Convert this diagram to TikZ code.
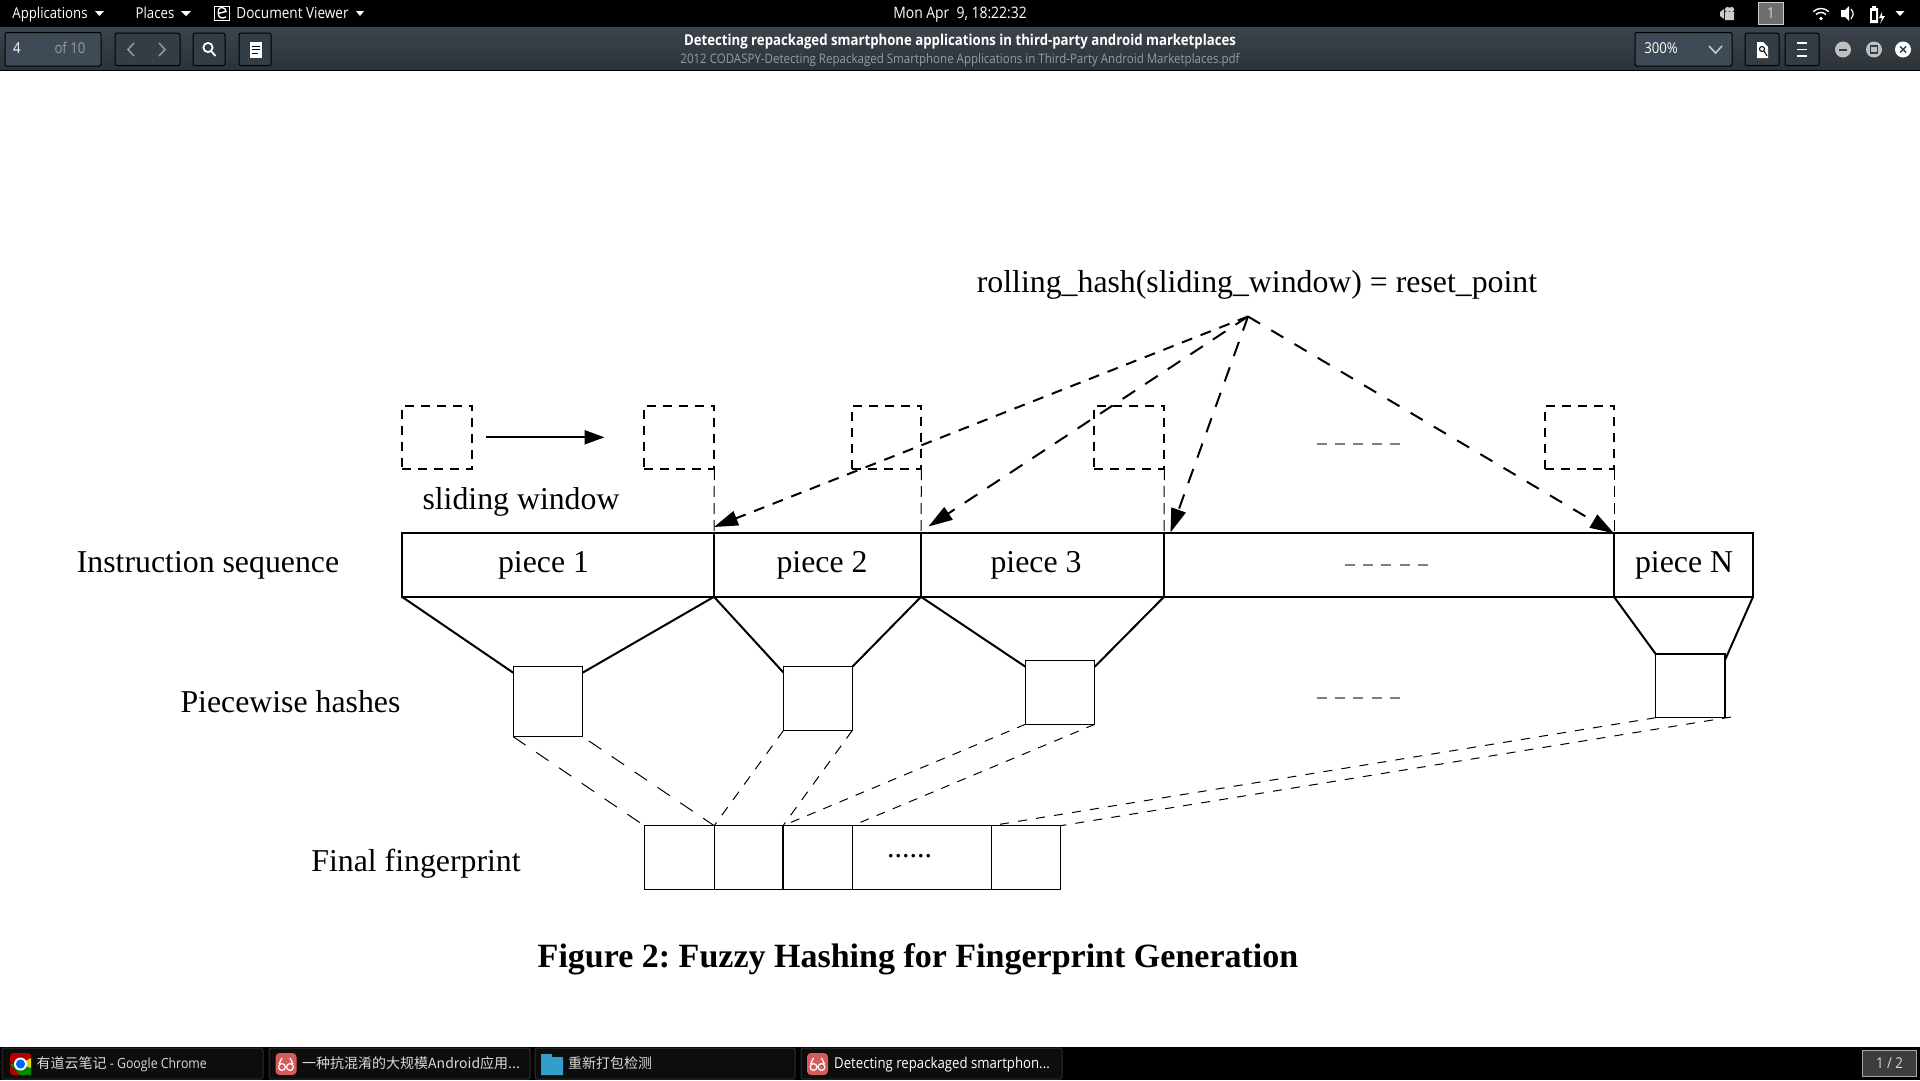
\documentclass[tikz,border=0pt]{standalone}
\usepackage{fontspec}
\usepackage{xcolor}
\usetikzlibrary{arrows.meta}
\setmainfont{Liberation Serif}
\newfontfamily\uifont[FakeStretch=0.88]{Open Sans}
\newfontfamily\cjkfont{Noto Sans CJK SC}
\definecolor{barTop}{RGB}{60,68,76}
\definecolor{barBot}{RGB}{44,50,56}
\definecolor{entryfill}{RGB}{62,74,85}
\definecolor{btnfill}{RGB}{52,60,68}
\definecolor{dimtext}{RGB}{150,156,160}
\definecolor{readerred}{RGB}{214,92,92}
\tikzset{
  slidebox/.style={draw,line width=2pt,dash pattern=on 9pt off 7pt,anchor=north west,inner sep=0pt,outer sep=0pt},
  piecebox/.style={draw,line width=2pt,anchor=north west,inner sep=0pt,outer sep=0pt,minimum height=63.5pt},
  hashbox/.style={draw,line width=1.2pt,anchor=north west,inner sep=0pt,outer sep=0pt},
  fingerbox/.style={hashbox,minimum height=64pt},
  biglabel/.style={font=\fontsize{31.8}{32}\selectfont,inner sep=0pt},
  trapline/.style={line width=2pt},
  thindash/.style={line width=1pt,dash pattern=on 10pt off 9pt},
  hitarrow/.style={line width=2pt,-{Triangle[length=24pt,width=15pt]}},
  graydash/.style={line width=1.6pt,gray,dash pattern=on 10pt off 8.4pt},
  menutxt/.style={text=white,inner sep=0pt,font=\uifont\fontsize{15}{15}\selectfont,text height=11pt,text depth=3pt},
  dimtxt/.style={menutxt,text=dimtext},
  tasktxt/.style={menutxt,text=white!85!black,anchor=west,font=\uifont\fontsize{15}{15}\selectfont},
  cjktxt/.style={tasktxt,font=\cjkfont\fontsize{14}{15}\selectfont},
  taskbtn/.style={rounded corners=2pt,draw=white!18!black,fill=white!5!black,line width=1pt},
  toolbtn/.style={rounded corners=2pt,draw=black,fill=btnfill,line width=1pt},
  caretmark/.style={fill=white,draw=none},
}
\begin{document}
\begin{tikzpicture}[x=1pt,y=-1pt,>=Stealth]
    \useasboundingbox (0,0) rectangle (1920,1080);
    \fill[white] (0,0) rectangle (1920,1080);
    % desktop top bar and viewer toolbar
    \fill[black] (0,0) rectangle (1920,27.5);
    \shade[top color=barTop,bottom color=barBot] (0,27.5) rectangle (1920,69.5);
    \fill[black] (0,69.5) rectangle (1920,70.5);
    \node[menutxt] (mapps) at (50,14.5){Applications};
    \fill[caretmark] (95,11)--(104,11)--(99.5,16)--cycle;
    \node[menutxt] (mplaces) at (155,14.5){Places};
    \fill[caretmark] (181,11)--(191,11)--(186,16)--cycle;
    \draw[white,line width=1pt] (214.5,6) rectangle (229,20.5);
    \draw[white,line width=1.4pt] (218,13.5)--(226,11.5) arc (0:-200:4) .. controls (218,18) and (222,19) .. (226,17);
    \node[menutxt,font=\uifont\fontsize{15.4}{16}\selectfont] (mviewer) at (292.5,14.5){Document Viewer};
    \fill[caretmark] (356,11)--(364,11)--(360,16)--cycle;
    \node[menutxt,font=\uifont\fontsize{15.8}{16}\selectfont] (mclock) at (960,14.5){Mon Apr\ \ 9, 18:22:32};
    % status icons
    \fill[white!80!black] (1720,12)--(1724,9)--(1724,19)--(1720,16)--cycle (1725,12) rectangle (1734,20);
    \fill[white!80!black] (1727.5,9.5) circle (2.6) (1731.5,9.5) circle (2.6);
    \node[draw=white!80!black,fill=white!43!black,text=white!85!black,minimum width=25pt,minimum height=22pt,inner sep=0pt,line width=1pt,font=\uifont\fontsize{15}{15}\selectfont] (mdesk) at (1771,13.5){1};
    \draw[white,line width=1.4pt] (1813.2,11.7) arc (-135:-45:11) (1816,14.5) arc (-135:-45:7);
    \fill[white] (1821,18.5) circle (1.8);
    \fill[white] (1841,10)--(1845,10)--(1849,6)--(1849,21)--(1845,17)--(1841,17)--cycle;
    \draw[white,line width=1.2pt] (1851,9) arc (-50:50:6 and 6.5);
    \fill[white] (1870,8) rectangle (1878,23) (1872,6) rectangle (1876,8);
    \fill[black] (1872,11) rectangle (1876,20);
    \fill[white] (1882,12)--(1879,18)--(1882,18)--(1880,24)--(1885,16)--(1882,16)--cycle;
    \fill[caretmark] (1895.5,11)--(1904.5,11)--(1900,16)--cycle;
    % left tools
    \draw[rounded corners=2pt,draw=black,fill=entryfill,line width=1pt] (5,32.5) rectangle (101,66);
    \node[menutxt] (tpage) at (17,49){4};
    \node[dimtxt] (tpages) at (70,49){of 10};
    \draw[toolbtn] (115,33) rectangle (180,65.5);
    \draw[line width=1.5pt,dimtext] (134,43)--(128,49.5)--(134,56);
    \draw[line width=1.5pt,dimtext] (159,43)--(165,49.5)--(159,56);
    \draw[toolbtn] (193,33) rectangle (225,65.5);
    \draw[white,line width=1.8pt] (208,47.5) circle (4.6) (211.5,51.5)--(215.5,56);
    \draw[toolbtn] (239,33) rectangle (271,65.5);
    \fill[white] (250,42) rectangle (262,58);
    \draw[black,line width=.9pt] (252,46)--(260,46) (252,49.5)--(260,49.5) (252,53)--(258,53);
    \node[menutxt,font=\uifont\bfseries\fontsize{15}{15}\selectfont] (ttitle) at (960,41){Detecting repackaged smartphone applications in third-party android marketplaces};
    \node[dimtxt,font=\uifont\fontsize{13.1}{13}\selectfont] (tfile) at (960,59){2012 CODASPY-Detecting Repackaged Smartphone Applications in Third-Party Android Marketplaces.pdf};
    % right tools
    \draw[rounded corners=2pt,draw=black,fill=entryfill,line width=1pt] (1635,32.5) rectangle (1732,66);
    \node[menutxt] (tzoom) at (1661,49){300\%};
    \draw[white!80!black,line width=1.5pt] (1709,46)--(1715.5,53)--(1722,46);
    \draw[toolbtn] (1745,33) rectangle (1779,65.5);
    \fill[white] (1757,42)--(1763,42)--(1768,47)--(1768,58)--(1757,58)--cycle;
    \draw[black,line width=1pt] (1762,49) circle (2.5) (1764,51)--(1767,56);
    \draw[toolbtn] (1785,33) rectangle (1819,65.5);
    \draw[white,line width=1.6pt] (1797,43)--(1807,43) (1797,49.5)--(1807,49.5) (1797,56)--(1807,56);
    \fill[white!75!black] (1843,49.5) circle (8) (1874,49.5) circle (8);
    \fill[white] (1903,49.5) circle (8);
    \draw[btnfill,line width=2pt] (1839,49.5)--(1847,49.5);
    \draw[btnfill,line width=1.6pt] (1870.5,46) rectangle (1877.5,53);
    \draw[btnfill,line width=1.4pt] (1900,46.5)--(1906,52.5) (1906,46.5)--(1900,52.5);
    % sliding windows
    \node[slidebox,minimum width=70pt,minimum height=63.5pt] (win1) at (402,405.7){};
    \node[slidebox,minimum width=70pt,minimum height=63.5pt] (win2) at (644.3,405.7){};
    \node[slidebox,minimum width=69pt,minimum height=63.5pt] (win3) at (852.4,405.7){};
    \node[slidebox,minimum width=70pt,minimum height=63.5pt] (win4) at (1094.3,405.7){};
    \node[slidebox,minimum width=69pt,minimum height=63.5pt] (win5) at (1545,405.7){};
    \coordinate (slidefrom) at (485.6,437.3);
    \coordinate (slideto) at (604.5,437.3);
    \draw[line width=2pt,-{Triangle[length=20pt,width=14pt]}] (slidefrom)--(slideto);
    \node[biglabel] (lblwin) at (521,501.5){sliding window};
    \node[biglabel] (lblroll) at (1257,285){rolling\_hash(sliding\_window) = reset\_point};
    % instruction sequence
    \node[piecebox,minimum width=312pt] (piece1) at (402,533.3){};
    \node[piecebox,minimum width=207pt] (piece2) at (714,533.3){};
    \node[piecebox,minimum width=243pt] (piece3) at (921,533.3){};
    \node[piecebox,minimum width=450pt] (pieceX) at (1164,533.3){};
    \node[piecebox,minimum width=139pt] (pieceN) at (1614,533.3){};
    \node[biglabel] (txt1) at (543.5,565.5){piece 1};
    \node[biglabel] (txt2) at (822,565.5){piece 2};
    \node[biglabel] (txt3) at (1036,565.5){piece 3};
    \node[biglabel] (txtN) at (1684,565.5){piece N};
    \draw[graydash] (1344.6,565)--(1428,565);
    \draw[graydash] (1316.5,444)--(1400,444);
    \draw[graydash] (1316.5,698)--(1400,698);
    \node[biglabel] (lblseq) at (208,565.5){Instruction sequence};
    \node[biglabel] (lblhash) at (290.5,701.5){Piecewise hashes};
    \node[biglabel] (lblfinal) at (416,863.5){Final fingerprint};
    % reset point arrows
    \coordinate (apex) at (1248,316.5);
    \coordinate (hit1) at (714,527);
    \coordinate (hit2) at (928.5,526.5);
    \coordinate (hit3) at (1170.5,532.5);
    \draw[hitarrow,dash pattern=on 11pt off 9pt] (apex)--(hit1);
    \draw[hitarrow,dash pattern=on 15pt off 12pt] (apex)--(hit2);
    \draw[hitarrow,dash pattern=on 15pt off 12pt] (apex)--(hit3);
    \draw[hitarrow,dash pattern=on 14pt off 13pt] (apex)--(pieceN.north west);
    % windows down to the bar
    \draw[thindash,dash pattern=on 11pt off 6pt] (win2.south east)--(piece1.north east);
    \draw[thindash,dash pattern=on 11pt off 6pt] (win3.south east)--(piece2.north east);
    \draw[thindash,dash pattern=on 11pt off 6pt] (win4.south east)--(piece3.north east);
    \draw[thindash,dash pattern=on 11pt off 6pt] (win5.south east)--(pieceN.north west);
    % piecewise hashes
    \node[hashbox,minimum width=69.4pt,minimum height=70pt] (hash1) at (513.2,666.7){};
    \node[hashbox,minimum width=68.8pt,minimum height=63.6pt] (hash2) at (783.6,666.7){};
    \node[hashbox,minimum width=69.4pt,minimum height=64pt] (hash3) at (1025.4,660.3){};
    \node[hashbox,minimum width=69.3pt,minimum height=63.7pt] (hash4) at (1655.7,654){};
    \draw[trapline] (piece1.south west)--(hash1.north west|-0,672.7);
    \draw[trapline] (piece1.south east)--(hash1.north east|-0,672.7);
    \draw[trapline] (piece2.south west)--(hash2.north west|-0,672.7);
    \draw[trapline] (piece2.south east)--(hash2.north east);
    \draw[trapline] (piece3.south west)--(hash3.north west|-0,666.7);
    \draw[trapline] (piece3.south east)--(hash3.north east|-0,666.7);
    \draw[trapline] (pieceN.south west)--(hash4.north west);
    \draw[trapline] (pieceN.south east)--(hash4.north east|-0,660);
    % final fingerprint
    \node[fingerbox,minimum width=69.9pt] (fp1) at (644.3,825.7){};
    \node[fingerbox,minimum width=68.8pt] (fp2) at (714.2,825.7){};
    \node[fingerbox,minimum width=69.4pt] (fp3) at (783,825.7){};
    \node[fingerbox,minimum width=138.8pt] (fp4) at (852.4,825.7){};
    \node[fingerbox,minimum width=69.4pt] (fp5) at (991.2,825.7){};
    \node[biglabel,font=\fontsize{30}{30}\selectfont] (fpdots) at (909.6,856){......};
    \coordinate (hash4tail) at (1731,717);
    \draw[thindash,dash pattern=on 15pt off 12.6pt] (hash1.south west)--(fp1.north west);
    \draw[thindash,dash pattern=on 15pt off 12.6pt,dash phase=20pt] (hash1.south east)--(fp2.north west);
    \draw[thindash] (hash2.south west)--(fp2.north west);
    \draw[thindash] (hash2.south east)--(fp3.north west);
    \draw[thindash,dash pattern=on 9pt off 8.5pt] (hash3.south west)--(fp3.north west);
    \draw[thindash,dash pattern=on 9pt off 8.5pt] (hash3.south east)--(fp4.north west);
    \draw[thindash,dash pattern=on 9pt off 9.2pt] (hash4.south west)--(fp5.north west);
    \draw[thindash,dash pattern=on 9pt off 9.2pt] (hash4tail)--(fp5.north east);
    \node[inner sep=0pt,font=\frenchspacing\bfseries\fontsize{34}{34}\selectfont] (caption) at (918,959.5){Figure 2: Fuzzy Hashing for Fingerprint Generation};
    % task bar
    \fill[black] (0,1047) rectangle (1920,1080);
    \draw[taskbtn] (2,1048) rectangle (263,1079);
    \draw[taskbtn] (269,1048) rectangle (530,1079);
    \draw[taskbtn] (535,1048) rectangle (795,1079);
    \draw[taskbtn] (801,1048) rectangle (1062,1079);
    \fill[rounded corners=3pt,red!70!black] (10,1053) rectangle (31,1075);
    \fill[green!55!black] (10,1064)--(20,1075)--(31,1075)--(31,1068)--(20,1064)--cycle;
    \fill[yellow!85!black] (31,1058)--(20,1064)--(31,1068)--cycle;
    \fill[white] (20.5,1064) circle (6.5);
    \fill[blue!60!cyan] (20.5,1064) circle (4.6);
    \foreach \xr in {275.5,807}{
      \fill[rounded corners=4pt,readerred] (\xr,1053) rectangle ++(21,22);
      \draw[white,line width=1.2pt] (\xr+6.5,1067) circle (3.4) (\xr+14.5,1067) circle (3.4) (\xr+3.5,1064)--(\xr+6.5,1058) (\xr+17.5,1064)--(\xr+14.5,1058);
    }
    \fill[blue!30!cyan!60!gray] (541,1054) rectangle (552,1058) (541,1057) rectangle (563,1075);
    \node[cjktxt] (task1) at (36.5,1064.5){有道云笔记\uifont{} - Google Chrome};
    \node[cjktxt] (task2) at (302,1064.5){一种抗混淆的大规模Android应用...};
    \node[cjktxt] (task3) at (568,1064.5){重新打包检测};
    \node[tasktxt,text=white] (task4) at (834,1064.5){Detecting repackaged smartphon...};
    \node[draw=white!65!black,fill=white!24!black,text=white!85!black,minimum width=54pt,minimum height=26pt,inner sep=0pt,line width=1pt,font=\uifont\fontsize{15}{15}\selectfont] (tasknum) at (1889.5,1063.5){1 / 2};
\end{tikzpicture}
\end{document}
